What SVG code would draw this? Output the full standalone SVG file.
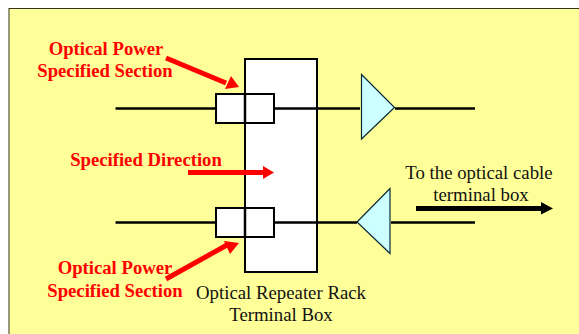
<svg xmlns="http://www.w3.org/2000/svg" width="579" height="334" viewBox="0 0 579 334">
<style>
.line{stroke:#000;stroke-width:2.5;fill:none}
.box{fill:#fff;stroke:#000;stroke-width:2}
.tri{fill:#ccffff;stroke:#0a2a3a;stroke-width:1.2}
.red{font:bold 18.7px "Liberation Serif",serif;fill:#ff0000;text-anchor:middle}
.blk{font:18.8px "Liberation Serif",serif;fill:#111;text-anchor:middle}
.ra{stroke:#ff0000;stroke-width:5;fill:none}
</style>
<rect width="579" height="334" fill="#fff"/>
<rect id="panel" x="9" y="8.500" width="580" height="340" fill="#ffff99" stroke="#33331a" stroke-width="1"/>
<g id="rack"><rect class="box" x="245" y="59" width="72" height="213"/></g>
<g id="conn-top"><rect class="box" x="216" y="94" width="58" height="29"/><path class="line" stroke-width="2" d="M245 94V123"/></g>
<g id="conn-bottom"><rect class="box" x="216" y="208" width="58" height="29"/><path class="line" stroke-width="2" d="M245 208V237"/></g>
<g id="amp-top"><path class="tri" d="M361.500 74.500L394.500 107.500L361.500 139Z"/></g>
<g id="amp-bottom"><path class="tri" d="M357 222L390 188.500V253.500Z"/></g>
<g id="connectors">
<path class="line" d="M115.500 108.500H215M275 108.500H360M395 108.500H475"/>
<path class="line" d="M115.500 222.500H215M275 222.500H357M391 222.500H475"/>
<path class="ra" d="M166 58L226 83"/><path fill="#ff0000" d="M239 87L225 89L231 76Z"/>
<path class="ra" d="M166 279L227 245"/><path fill="#ff0000" d="M239 243L230 254L224 241Z"/>
<path class="ra" d="M188 172.500H264"/><path fill="#ff0000" d="M263 166L274 172.500L263 179Z"/>
<path stroke="#000" stroke-width="5" fill="none" d="M416 208.500H542"/><path d="M541 202L553 208.500L541 214.500Z"/>
</g>
<g id="labels">
<text class="red" x="106" y="55">Optical Power</text>
<text class="red" x="105" y="77">Specified Section</text>
<text class="red" x="146" y="166">Specified Direction</text>
<text class="red" x="115" y="274">Optical Power</text>
<text class="red" x="115" y="297">Specified Section</text>
<text class="blk" x="281" y="299">Optical Repeater Rack</text>
<text class="blk" x="281" y="321">Terminal Box</text>
<text class="blk" x="479" y="179">To the optical cable</text>
<text class="blk" x="481" y="201">terminal box</text>
</g>
</svg>
